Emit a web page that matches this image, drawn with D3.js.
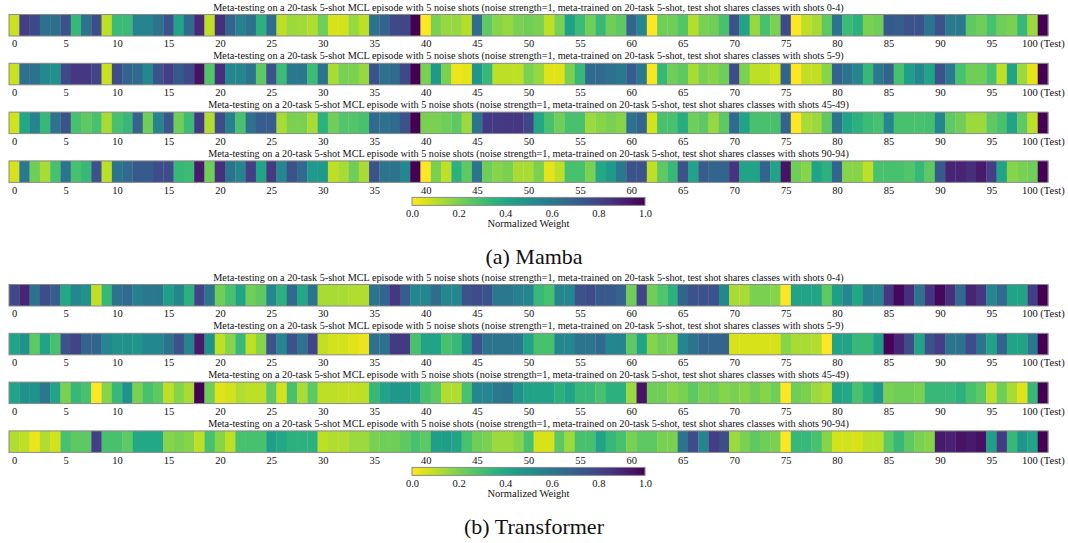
<!DOCTYPE html>
<html>
<head>
<meta charset="utf-8">
<script src="https://cdn.jsdelivr.net/npm/d3@7"></script>
<style>
  body { margin: 0; background: #fff; }
  svg { display: block; }
</style>
</head>
<body>
<div id="chart"></div>
<script>
// cell values (normalized weight per shot, last one is the test shot)
const mambaShots0to4 = [
  0.08,0.82,0.78,0.63,0.64,0.75,0.33,0.62,0.77,0.10,
  0.32,0.32,0.55,0.55,0.62,0.75,0.42,0.66,0.88,0.10,
  0.86,0.68,0.57,0.63,0.36,0.65,0.10,0.15,0.14,0.12,
  0.22,0.06,0.07,0.16,0.10,0.62,0.68,0.78,0.79,1.00,
  0.00,0.20,0.16,0.16,0.11,0.65,0.25,0.18,0.16,0.20,
  0.22,0.20,0.10,0.20,0.43,0.32,0.22,0.33,0.22,0.25,
  0.68,0.54,0.00,0.22,0.22,0.27,0.11,0.20,0.22,0.29,
  0.75,0.42,0.16,0.29,0.20,0.78,0.00,0.10,0.13,0.25,
  0.62,0.32,0.36,0.20,0.22,0.72,0.71,0.75,0.75,0.62,
  0.75,0.59,0.59,0.25,0.22,0.29,0.22,0.20,0.33,0.15,1.00];
const mambaShots5to9 = [
  0.08,0.63,0.63,0.53,0.50,0.78,0.84,0.84,0.80,0.08,
  0.77,0.68,0.66,0.54,0.75,0.82,0.72,0.78,0.95,0.27,
  0.86,0.54,0.54,0.62,0.25,0.75,0.32,0.60,0.60,0.32,
  0.62,0.13,0.20,0.20,0.16,0.75,0.63,0.66,0.78,1.00,
  0.20,0.46,0.20,0.03,0.04,0.48,0.33,0.10,0.10,0.10,
  0.20,0.16,0.05,0.05,0.20,0.33,0.66,0.66,0.63,0.60,
  0.71,0.60,0.01,0.33,0.22,0.25,0.13,0.20,0.18,0.22,
  0.77,0.20,0.10,0.10,0.07,0.68,0.00,0.09,0.09,0.18,
  0.68,0.62,0.55,0.33,0.60,0.68,0.29,0.44,0.54,0.42,
  0.75,0.59,0.29,0.22,0.22,0.29,0.10,0.42,0.15,0.04,1.00];
const mambaShots45to49 = [
  0.07,0.40,0.55,0.33,0.62,0.75,0.29,0.25,0.29,0.13,
  0.29,0.33,0.68,0.22,0.55,0.73,0.22,0.32,0.83,0.12,
  0.77,0.57,0.29,0.63,0.71,0.71,0.13,0.20,0.20,0.13,
  0.36,0.22,0.27,0.27,0.29,0.66,0.63,0.66,0.75,1.00,
  0.20,0.20,0.22,0.25,0.15,0.62,0.83,0.83,0.84,0.84,
  0.79,0.40,0.29,0.22,0.29,0.29,0.15,0.18,0.20,0.18,
  0.63,0.68,0.07,0.29,0.29,0.38,0.22,0.25,0.16,0.25,
  0.66,0.42,0.29,0.29,0.29,0.68,0.00,0.13,0.15,0.25,
  0.62,0.42,0.36,0.32,0.29,0.54,0.29,0.29,0.29,0.30,
  0.54,0.25,0.22,0.15,0.15,0.25,0.29,0.42,0.25,0.10,1.00];
const mambaShots90to94 = [
  0.06,0.60,0.22,0.13,0.29,0.62,0.29,0.33,0.75,0.10,
  0.62,0.66,0.72,0.72,0.77,0.77,0.33,0.32,0.93,0.22,
  0.86,0.62,0.55,0.82,0.41,0.83,0.54,0.75,0.66,0.46,
  0.46,0.10,0.13,0.22,0.13,0.75,0.62,0.62,0.54,1.00,
  0.00,0.20,0.10,0.36,0.25,0.62,0.22,0.18,0.20,0.13,
  0.13,0.20,0.04,0.10,0.29,0.29,0.20,0.40,0.46,0.60,
  0.75,0.75,0.10,0.25,0.33,0.75,0.42,0.71,0.68,0.68,
  0.85,0.42,0.42,0.68,0.42,0.95,0.22,0.18,0.42,0.36,
  0.68,0.18,0.18,0.10,0.29,0.29,0.29,0.27,0.33,0.25,
  0.72,0.90,0.90,0.87,0.93,0.82,0.42,0.18,0.20,0.22,1.00];

const transformerShots0to4 = [
  0.78,0.90,0.62,0.77,0.71,0.40,0.54,0.49,0.09,0.33,
  0.62,0.66,0.57,0.60,0.60,0.44,0.54,0.36,0.80,0.62,
  0.22,0.29,0.42,0.22,0.25,0.54,0.36,0.66,0.40,0.62,
  0.13,0.13,0.13,0.12,0.12,0.62,0.68,0.84,0.71,0.54,
  0.54,0.65,0.54,0.54,0.75,0.77,0.75,0.60,0.60,0.57,
  0.54,0.33,0.29,0.54,0.54,0.75,0.77,0.72,0.72,0.68,
  0.22,0.80,0.22,0.27,0.36,0.68,0.75,0.75,0.75,0.54,
  0.13,0.13,0.20,0.20,0.18,0.00,0.42,0.42,0.42,0.25,
  0.44,0.54,0.40,0.57,0.54,0.84,0.98,0.86,0.62,0.85,
  0.98,0.86,0.66,0.90,0.84,0.54,0.66,0.42,0.42,0.82,1.00];
const transformerShots5to9 = [
  0.42,0.49,0.25,0.42,0.29,0.75,0.80,0.68,0.68,0.54,
  0.50,0.50,0.48,0.54,0.54,0.62,0.75,0.55,0.93,0.49,
  0.10,0.18,0.33,0.10,0.18,0.75,0.54,0.75,0.62,0.80,
  0.09,0.07,0.07,0.05,0.03,0.63,0.63,0.83,0.83,0.29,
  0.42,0.42,0.29,0.33,0.49,0.75,0.62,0.62,0.62,0.60,
  0.42,0.29,0.29,0.54,0.54,0.62,0.62,0.66,0.54,0.55,
  0.25,0.42,0.18,0.22,0.20,0.54,0.62,0.68,0.68,0.68,
  0.06,0.06,0.06,0.06,0.06,0.18,0.13,0.13,0.12,0.00,
  0.42,0.42,0.33,0.33,0.44,0.99,0.90,0.77,0.42,0.75,
  0.82,0.62,0.62,0.77,0.62,0.42,0.68,0.42,0.42,0.60,1.00];
const transformerShots45to49 = [
  0.42,0.49,0.49,0.60,0.42,0.20,0.33,0.29,0.00,0.18,
  0.33,0.49,0.20,0.29,0.25,0.10,0.18,0.13,1.00,0.22,
  0.05,0.07,0.12,0.10,0.10,0.25,0.07,0.29,0.13,0.25,
  0.10,0.10,0.09,0.09,0.10,0.33,0.42,0.47,0.47,0.42,
  0.29,0.25,0.12,0.12,0.29,0.54,0.54,0.60,0.62,0.49,
  0.42,0.42,0.42,0.36,0.42,0.33,0.33,0.29,0.36,0.36,
  0.15,0.95,0.22,0.22,0.18,0.20,0.25,0.20,0.22,0.18,
  0.20,0.18,0.22,0.18,0.22,0.00,0.22,0.20,0.15,0.12,
  0.42,0.40,0.29,0.36,0.47,0.20,0.22,0.22,0.20,0.33,
  0.33,0.33,0.36,0.29,0.25,0.10,0.22,0.13,0.05,0.33,1.00];
const transformerShots90to94 = [
  0.12,0.10,0.03,0.12,0.07,0.29,0.25,0.25,0.82,0.29,
  0.29,0.25,0.40,0.40,0.40,0.18,0.20,0.18,0.10,0.29,
  0.18,0.10,0.29,0.29,0.29,0.44,0.40,0.36,0.36,0.36,
  0.10,0.12,0.12,0.15,0.15,0.20,0.22,0.22,0.25,0.29,
  0.25,0.44,0.44,0.42,0.29,0.22,0.20,0.15,0.15,0.18,
  0.29,0.06,0.06,0.25,0.15,0.29,0.29,0.42,0.33,0.29,
  0.20,0.25,0.25,0.20,0.20,0.62,0.77,0.55,0.82,0.77,
  0.15,0.20,0.25,0.22,0.20,0.00,0.33,0.33,0.29,0.18,
  0.07,0.07,0.06,0.10,0.10,0.25,0.33,0.25,0.20,0.18,
  0.93,0.91,0.95,0.93,0.96,0.44,0.83,0.33,0.48,0.42,1.00];

const shotGroups = ["0-4", "5-9", "45-49", "90-94"];
const panelNames = ["(a) Mamba", "(b) Transformer"];
const xTicks = d3.range(0, 101, 5);
const xTickLabels = xTicks.map(t => t === 100 ? "100 (Test)" : String(t));
const cbarTicks = [0, 0.2, 0.4, 0.6, 0.8, 1.0];

const panels = [
  [mambaShots0to4, mambaShots5to9, mambaShots45to49, mambaShots90to94],
  [transformerShots0to4, transformerShots5to9, transformerShots45to49, transformerShots90to94]
];

const W = 1068, H = 543;
const FONT = "Liberation Serif, Times New Roman, Times, Nimbus Roman, FreeSerif, Noto Serif, DejaVu Serif, serif";
const svg = d3.select('#chart').append('svg')
  .attr('width', W).attr('height', H)
  .style('font-family', FONT);

const x = d3.scaleLinear().domain([-0.5, 100.5]).range([9, 1048]);
const color = d3.scaleSequential(d3.interpolateViridis).domain([1, 0]);

const stripH = 21.5;
const stripPitch = 48.8;
const panelTop = [14.5, 284.5];

// gradient for colorbar
const grad = svg.append('defs').append('linearGradient')
  .attr('id', 'cbar').attr('x1', '0%').attr('x2', '100%');
d3.range(0, 1.0001, 0.05).forEach(t => {
  grad.append('stop').attr('offset', (t * 100) + '%').attr('stop-color', color(t));
});

function styleText(sel, size) {
  sel.style('font-family', FONT).style('font-size', size + 'px').attr('fill', '#111');
}

panels.forEach(function(rows, p){
  rows.forEach(function(vals, r){
    let top = panelTop[p] + r * stripPitch;
    let g = svg.append('g');

    g.append('text')
      .attr('x', (x.range()[0] + x.range()[1]) / 2)
      .attr('y', top - 4)
      .attr('text-anchor', 'middle')
      .call(styleText, 10.2)
      .text('Meta-testing on a 20-task 5-shot MCL episode with 5 noise shots (noise strength=1, meta-trained on 20-task 5-shot, test shot shares classes with shots ' + shotGroups[r] + ')');

    g.selectAll('rect.cell')
      .data(vals)
      .join('rect')
      .attr('class', 'cell')
      .attr('x', (d, i) => x(i - 0.5))
      .attr('y', top)
      .attr('width', (d, i) => x(i + 0.5) - x(i - 0.5) + 0.3)
      .attr('height', stripH)
      .attr('fill', d => color(d));

    g.append('rect')
      .attr('x', x(-0.5)).attr('y', top)
      .attr('width', x(100.5) - x(-0.5)).attr('height', stripH)
      .attr('fill', 'none').attr('stroke', '#8a8a8a').attr('stroke-width', 1);

    let axis = d3.axisBottom(x).tickValues(xTicks)
      .tickFormat((d, i) => xTickLabels[i]).tickSize(0).tickPadding(4);
    let ag = g.append('g').attr('transform', `translate(0,${top + stripH})`).call(axis);
    ag.attr('font-family', null);
    ag.select('.domain').remove();
    ag.selectAll('text').call(styleText, 10.5);
  });

  // colorbar
  let cTop = panelTop[p] + 3 * stripPitch + 36.5;
  let cx = d3.scaleLinear().domain([0, 1]).range([412, 645]);
  svg.append('rect')
    .attr('x', cx(0)).attr('y', cTop).attr('width', cx(1) - cx(0)).attr('height', 8)
    .attr('fill', 'url(#cbar)').attr('stroke', '#8a8a8a').attr('stroke-width', 1);
  let cax = svg.append('g').attr('transform', `translate(0,${cTop + 8})`)
    .call(d3.axisBottom(cx).tickValues(cbarTicks).tickFormat(d3.format('.1f')).tickSize(0).tickPadding(4));
  cax.attr('font-family', null);
  cax.select('.domain').remove();
  cax.selectAll('text').call(styleText, 10.5);
  svg.append('text')
    .attr('x', (cx(0) + cx(1)) / 2).attr('y', cTop + 29.5)
    .attr('text-anchor', 'middle').call(styleText, 10.5)
    .text('Normalized Weight');

  svg.append('text')
    .attr('x', 534).attr('y', cTop + 67)
    .attr('text-anchor', 'middle').call(styleText, 22)
    .text(panelNames[p]);
});
</script>
</body>
</html>
